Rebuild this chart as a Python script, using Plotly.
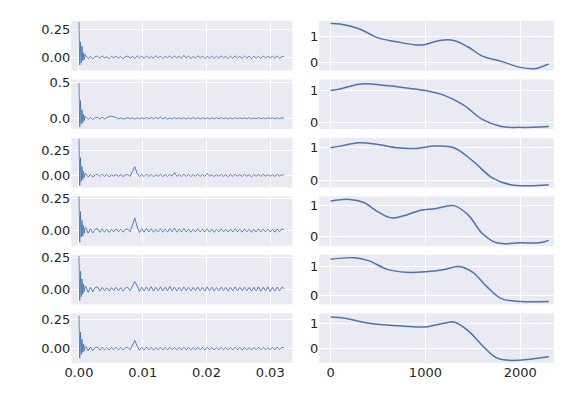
import plotly.graph_objects as go
from plotly.subplots import make_subplots

# left column: impulse responses (x in seconds), values in thousandths
dt = 0.000366
spike_1 = [320, -70, 140, -50, 100, -30, 40, -20, 25]
spike_2 = [500, -120, 250, -80, 120, -60, 60, -30, 30]
spike_3 = [370, -100, 180, -60, 90, -40, 40, -20, 20]
spike_4 = [270, -90, 150, -50, 80, -40, 40, -20, 20]
spike_5 = [260, -90, 140, -60, 80, -40, 40, -20, 20]
spike_6 = [280, -80, 140, -50, 80, -30, 40, -20, 15]

tail_1 = [12, -10, 8, -14, 6, 10, -8, 12, -6, 4, -12, 9, -5, 11, -9, 7, -13, 5, 10, -7,
          8, -11, 14, -6, 9, -10, 12, -8, 6, -9, 15, -7, 10, -12, 8, -5, 11, -9, 13, -6,
          9, -10, 18, -8, 12, -11, 7, -9, 14, -6, 10, -12, 8, -7, 11, -10, 9, -8, 12, -6,
          7, -11, 10, -9, 13, -7, 8, -10, 11, -6, 9, -12, 10, -8, 7, -9, 11, -6, 8, -5,
          9, -7, 10, -8, 6, 3]
tail_2 = [20, -15, 12, -18, 10, 14, -10, 16, -8, 12, 25, 30, 22, 10, -8, 6, -10, 5, 9, -7,
          6, -9, 8, -6, 7, -8, 10, -7, 12, -9, 14, -6, 18, -8, 12, -10, 7, -9, 10, -6,
          8, -7, 9, -8, 6, -7, 10, -6, 8, -9, 7, -5, 9, -8, 6, -7, 10, -6, 8, -5,
          7, -8, 6, -7, 9, -6, 8, -5, 7, -6, 9, -7, 6, -5, 8, -6, 7, -5, 6, -4,
          7, -5, 6, -4, 5, 2]
tail_3 = [18, -14, 10, -16, 8, 12, -10, 14, -9, 10, -12, 8, -6, 10, -8, 7, -10, 6, 9, -8,
          40, 90, 20, -10, 12, -9, 15, -8, 10, -11, 8, -7, 11, -9, 9, -10, 12, -6, 30, -8,
          10, -9, 14, -8, 11, -10, 9, -7, 12, -8, 10, -9, 22, -7, 9, -10, 8, -6, 11, -9,
          8, -10, 10, -8, 12, -7, 9, -9, 10, -6, 8, -11, 9, -7, 10, -8, 11, -6, 8, -7,
          9, -8, 10, -6, 8, 4]
tail_4 = [25, -20, 15, -18, 12, 16, -14, 14, -12, 10, -14, 12, -10, 14, -9, 12, -12, 10, 13, -10,
          50, 100, 30, -15, 15, -12, 18, -10, 14, -13, 12, -10, 15, -12, 13, -11, 16, -9, 20, -12,
          14, -11, 18, -10, 13, -12, 11, -10, 15, -9, 12, -11, 14, -10, 12, -13, 11, -9, 14, -10,
          12, -11, 13, -10, 15, -9, 12, -12, 13, -9, 11, -13, 12, -10, 14, -11, 13, -9, 12, -10,
          11, -12, 13, -9, 14, 6]
tail_5 = [22, -25, 15, -20, 12, 18, -15, 14, -12, 10, -14, 12, -10, 14, -12, 12, -15, 10, 13, -12,
          30, 60, 25, -18, 15, -14, 18, -12, 20, -15, 14, -12, 18, -14, 15, -13, 22, -12, 16, -14,
          14, -13, 18, -12, 15, -14, 13, -12, 16, -13, 14, -15, 18, -12, 15, -14, 13, -12, 16, -13,
          14, -15, 15, -12, 17, -14, 14, -13, 16, -12, 14, -15, 15, -13, 18, -16, 15, -14, 17, -18,
          14, -15, 16, -13, 15, 5]
tail_6 = [20, -18, 14, -16, 10, 14, -12, 12, -10, 9, -12, 10, -8, 12, -9, 10, -11, 8, 11, -9,
          30, 70, 22, -12, 12, -10, 14, -9, 11, -12, 9, -8, 12, -10, 10, -11, 13, -8, 11, -9,
          10, -9, 12, -8, 11, -10, 9, -8, 12, -9, 10, -11, 12, -8, 10, -11, 9, -8, 11, -9,
          10, -10, 11, -9, 12, -8, 10, -10, 11, -8, 9, -11, 10, -8, 12, -9, 11, -8, 10, -9,
          12, -10, 14, -9, 12, 5]

# right column: smooth responses
x_r1 = [0, 100, 300, 500, 700, 900, 1000, 1150, 1300, 1450, 1600, 1800, 2000, 2150, 2300]
y_r1 = [1.5, 1.48, 1.3, 0.95, 0.8, 0.68, 0.7, 0.85, 0.85, 0.6, 0.25, 0.05, -0.18, -0.23, -0.05]
x_r2 = [0, 100, 300, 450, 700, 1000, 1200, 1400, 1600, 1800, 2000, 2300]
y_r2 = [1.0, 1.05, 1.2, 1.2, 1.12, 1.0, 0.85, 0.55, 0.1, -0.12, -0.15, -0.12]
x_r3 = [0, 100, 300, 500, 700, 900, 1100, 1300, 1500, 1700, 1900, 2100, 2300]
y_r3 = [1.0, 1.05, 1.15, 1.1, 1.0, 0.98, 1.05, 1.0, 0.6, 0.1, -0.12, -0.15, -0.12]
x_r4 = [0, 200, 350, 500, 650, 800, 950, 1100, 1300, 1450, 1600, 1750, 2000, 2200, 2300]
y_r4 = [1.15, 1.2, 1.1, 0.8, 0.6, 0.7, 0.85, 0.9, 1.0, 0.7, 0.1, -0.2, -0.2, -0.2, -0.12]
x_r5 = [0, 250, 400, 600, 800, 1000, 1200, 1350, 1500, 1650, 1800, 2000, 2300]
y_r5 = [1.25, 1.3, 1.2, 0.9, 0.8, 0.82, 0.9, 1.0, 0.8, 0.3, -0.1, -0.2, -0.2]
x_r6 = [0, 150, 400, 700, 900, 1000, 1200, 1300, 1450, 1600, 1750, 1900, 2100, 2300]
y_r6 = [1.25, 1.2, 1.0, 0.9, 0.85, 0.85, 1.0, 1.05, 0.7, 0.1, -0.4, -0.5, -0.45, -0.35]

spikes = [spike_1, spike_2, spike_3, spike_4, spike_5, spike_6]
tails = [tail_1, tail_2, tail_3, tail_4, tail_5, tail_6]
rights = [(x_r1, y_r1), (x_r2, y_r2), (x_r3, y_r3), (x_r4, y_r4), (x_r5, y_r5), (x_r6, y_r6)]
left_ranges = [[-0.12, 0.33], [-0.15, 0.55], [-0.12, 0.38], [-0.12, 0.27], [-0.12, 0.27], [-0.12, 0.3]]
left_ticks = [[0, 0.25], [0, 0.5], [0, 0.25], [0, 0.25], [0, 0.25], [0, 0.25]]
left_fmt = [".2f", ".1f", ".2f", ".2f", ".2f", ".2f"]
right_ranges = [[-0.3, 1.6], [-0.2, 1.35], [-0.2, 1.3], [-0.3, 1.3], [-0.3, 1.4], [-0.6, 1.4]]

color = "#4C72B0"
fig = make_subplots(rows=6, cols=2, horizontal_spacing=0.046, vertical_spacing=0.025)

for i in range(6):
    vals = spikes[i] + tails[i]
    n_sp = len(spikes[i])
    xs = [k * 0.00012 for k in range(n_sp)] + [n_sp * 0.00012 + k * dt for k in range(len(tails[i]))]
    fig.add_trace(go.Scatter(x=xs, y=[v / 1000 for v in vals], mode="lines",
                             line=dict(color=color, width=0.9)), row=i + 1, col=1)
    xr, yr = rights[i]
    fig.add_trace(go.Scatter(x=xr, y=yr, mode="lines", line=dict(color=color, width=1.5, shape="spline")),
                  row=i + 1, col=2)
    fig.update_yaxes(range=left_ranges[i], tickvals=left_ticks[i], tickformat=left_fmt[i], row=i + 1, col=1)
    fig.update_yaxes(range=right_ranges[i], tickvals=[0, 1], row=i + 1, col=2)
    fig.update_xaxes(range=[-0.0012, 0.0335], tickvals=[0, 0.01, 0.02, 0.03], tickformat=".2f",
                     row=i + 1, col=1, showticklabels=(i == 5))
    fig.update_xaxes(range=[-120, 2420], tickvals=[0, 1000, 2000], row=i + 1, col=2,
                     showticklabels=(i == 5))

fig.update_xaxes(gridcolor="white", zeroline=False, showline=False)
fig.update_yaxes(gridcolor="white", zeroline=False, showline=False)

# domains in paper coordinates
top, bottom, gap = 8, 355, 9
h = (bottom - top - 5 * gap) / 6
for i in range(6):
    y1 = 1 - (top + i * (h + gap)) / 417
    y0 = 1 - (top + i * (h + gap) + h) / 417
    fig.update_yaxes(domain=[y0, y1], row=i + 1, col=1)
    fig.update_yaxes(domain=[y0, y1], row=i + 1, col=2)
    fig.update_xaxes(domain=[57 / 562, 281 / 562], row=i + 1, col=1)
    fig.update_xaxes(domain=[308 / 562, 552 / 562], row=i + 1, col=2)

fig.update_layout(
    width=562, height=417,
    margin=dict(l=0, r=0, t=0, b=0),
    showlegend=False,
    paper_bgcolor="white",
    plot_bgcolor="#EAEAF2",
    font=dict(family="DejaVu Sans", size=13, color="#262626"),
)

fig.write_html("out.html")
